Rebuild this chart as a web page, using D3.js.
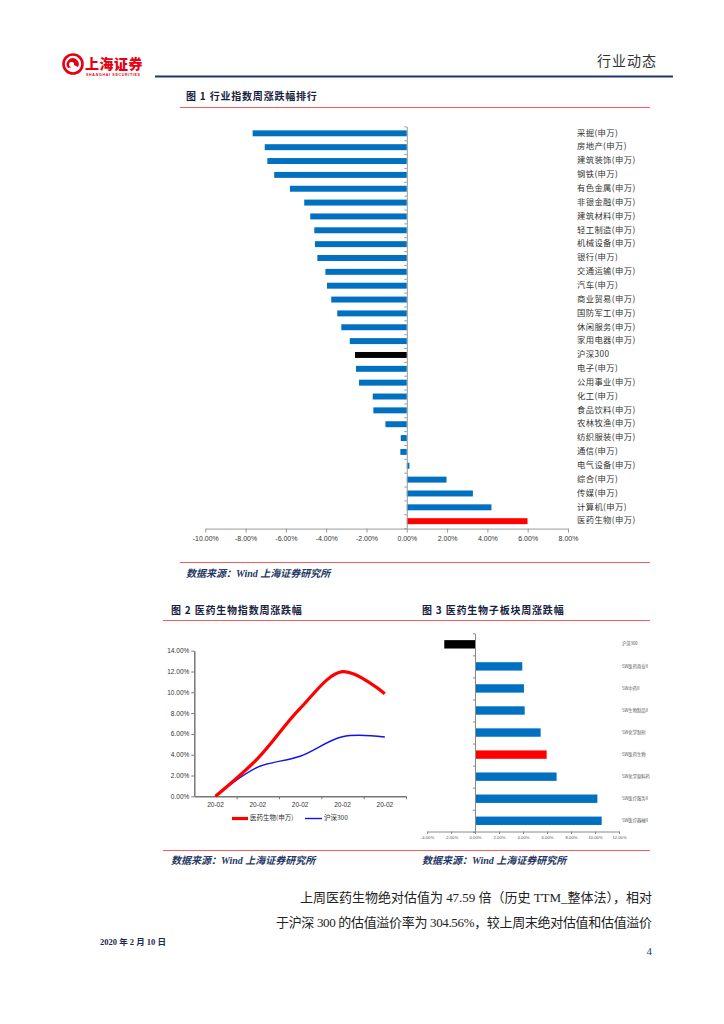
<!DOCTYPE html>
<html><head><meta charset="utf-8">
<script src="https://cdn.jsdelivr.net/npm/d3@7"></script>
<style>body{margin:0;background:#fff}svg{display:block}</style>
</head><body>
<svg id="c" width="724" height="1024"></svg>
<script>
// ---------- DATA ----------
const industries = ["采掘(申万)","房地产(申万)","建筑装饰(申万)","钢铁(申万)","有色金属(申万)","非银金融(申万)","建筑材料(申万)","轻工制造(申万)","机械设备(申万)","银行(申万)","交通运输(申万)","汽车(申万)","商业贸易(申万)","国防军工(申万)","休闲服务(申万)","家用电器(申万)","沪深300","电子(申万)","公用事业(申万)","化工(申万)","食品饮料(申万)","农林牧渔(申万)","纺织服装(申万)","通信(申万)","电气设备(申万)","综合(申万)","传媒(申万)","计算机(申万)","医药生物(申万)"];
const industryChanges = [-7.65,-7.05,-6.92,-6.58,-5.80,-5.09,-4.79,-4.59,-4.56,-4.44,-4.04,-3.96,-3.75,-3.45,-3.25,-2.83,-2.57,-2.52,-2.37,-1.69,-1.66,-1.06,-0.30,-0.32,0.13,1.97,3.28,4.20,5.99];
const fig1Ticks = [-10,-8,-6,-4,-2,0,2,4,6,8];

const fig2Dates = ["20-02","20-02","20-02","20-02","20-02"];
const fig2Pharma = [0, 3.65, 8.45, 11.98, 9.87];
const fig2HS300 = [0, 2.80, 3.85, 5.73, 5.70];
const fig2Ticks = [0,2,4,6,8,10,12,14];
const fig2SeriesNames = ["医药生物(申万)","沪深300"];

const sectors = ["沪深300","SW医药商业II","SW中药II","SW生物制品II","SW化学制剂","SW医药生物","SW化学原料药","SW医疗服务II","SW医疗器械II"];
const sectorChanges = [-2.56, 3.94, 4.08, 4.14, 5.47, 5.97, 6.80, 10.20, 10.56];
const fig3Ticks = [-4,-2,0,2,4,6,8,10,12];

// ---------- HELPERS ----------
const svg = d3.select("#c");
const pct = v => v.toFixed(2) + "%";
const BLUE = "#0070c0", NAVY = "#1f3864", RED = "#ff0000";
const cjk = "'Noto Sans CJK SC','Noto Sans',sans-serif";
const serif = "'Liberation Serif','DejaVu Serif','Noto Sans CJK SC',serif";
const sans = "'Liberation Sans',Arial,'Noto Sans CJK SC',sans-serif";
const colorOf = (name) => name === "沪深300" ? "#000" : (name.indexOf("医药生物") >= 0 ? RED : BLUE);

// ---------- HEADER ----------
const logo = svg.append("g").attr("transform","translate(73,64)");
logo.append("circle").attr("r",9.5).attr("fill","none").attr("stroke","#e60012").attr("stroke-width",2.6);
logo.append("path").attr("d","M-5,4 A6,6 0 1 1 5,3 L1,1 A2.5,2.5 0 1 0 -1,3 Z").attr("fill","#e60012");
svg.append("text").attr("x",85).attr("y",69).attr("font-family",cjk).attr("font-weight",900)
  .attr("font-size",14).attr("fill","#e60012").attr("letter-spacing",0.5).text("上海证券");
svg.append("text").attr("x",86).attr("y",76).attr("font-family",sans).attr("font-weight",700)
  .attr("font-size",3.6).attr("fill","#e60012").attr("textLength",54).text("SHANGHAI SECURITIES");
svg.append("text").attr("x",657).attr("y",66).attr("text-anchor","end").attr("font-family",cjk)
  .attr("font-size",14).attr("fill","#333").attr("letter-spacing",1).text("行业动态");
svg.append("line").attr("x1",155).attr("x2",673).attr("y1",76.5).attr("y2",76.5).attr("stroke",NAVY).attr("stroke-width",2.2);

function title(x, y, txt){
  svg.append("text").attr("x",x).attr("y",y).attr("font-family",cjk).attr("font-weight",700)
    .attr("font-size",10).attr("fill","#16213e").attr("letter-spacing",0.8).text(txt);
}
function redLine(x1,x2,y){
  svg.append("line").attr("x1",x1).attr("x2",x2).attr("y1",y).attr("y2",y).attr("stroke","#ff5a5a").attr("stroke-width",1);
}
function source(x,y){
  svg.append("text").attr("x",x).attr("y",y).attr("font-family",serif).attr("font-style","italic")
    .attr("font-weight",700).attr("font-size",10).attr("fill",NAVY).text("数据来源：Wind 上海证券研究所");
}

// ---------- FIGURE 1 ----------
title(186,100,"图 1 行业指数周涨跌幅排行");
redLine(180,650,107.5);

const x1 = d3.scaleLinear().domain([-10,8]).range([205.3,568]);
const y1 = d3.scaleBand().domain(industries).range([126.4,528.1]).paddingInner(0.57).paddingOuter(0.285);
const y1i = d3.scaleLinear().domain([0,industries.length]).range([126.4,528.1]);
const g1 = svg.append("g");
g1.selectAll("rect").data(industries).join("rect")
  .attr("x",(d,i)=>x1(Math.min(0,industryChanges[i])))
  .attr("width",(d,i)=>Math.abs(x1(industryChanges[i])-x1(0)))
  .attr("y",d=>y1(d)).attr("height",y1.bandwidth())
  .attr("fill",d=>colorOf(d));
const ax1 = g1.append("g").attr("transform","translate(0,528.6)")
  .call(d3.axisBottom(x1).tickValues(fig1Ticks).tickFormat(pct).tickSize(4).tickSizeOuter(0).tickPadding(3));
ax1.select(".domain").attr("stroke","#999");
ax1.selectAll("line").attr("stroke","#999");
ax1.selectAll("text").attr("font-family",sans).attr("font-size",7).attr("fill","#333");
const ay1 = g1.append("g").attr("transform",`translate(${x1(0)},0)`)
  .call(d3.axisLeft(y1i).tickValues(d3.range(industries.length+1)).tickFormat("").tickSize(2.5).tickSizeOuter(0));
ay1.select(".domain").attr("stroke","#999");
ay1.selectAll("line").attr("stroke","#999");
g1.selectAll("text.lab").data(industries).join("text").attr("class","lab")
  .attr("x",577).attr("y",d=>y1(d)+y1.bandwidth()/2).attr("dominant-baseline","middle")
  .attr("font-family",cjk).attr("font-size",8.3).attr("letter-spacing",0.4).attr("fill","#333").text(d=>d);

redLine(180,650,562.5);
source(186,577);

// ---------- FIGURE 2 ----------
title(171,614,"图 2 医药生物指数周涨跌幅");
redLine(163,415,620.5);
title(422,614,"图 3 医药生物子板块周涨跌幅");
redLine(415,650,620.5);

const x2 = d3.scaleBand().domain(d3.range(fig2Dates.length)).range([194.3,406]);
const x2c = i => x2(i) + x2.bandwidth()/2;
const y2 = d3.scaleLinear().domain([0,14]).range([796.3,650.7]);
const g2 = svg.append("g");
const ax2 = g2.append("g").attr("transform","translate(0,796.3)")
  .call(d3.axisBottom(x2).tickFormat(i=>fig2Dates[i]).tickSize(0).tickPadding(6));
ax2.select(".domain").attr("stroke","#777").attr("stroke-width",1.5);
ax2.selectAll("text").attr("font-family",sans).attr("font-size",6.5).attr("fill","#333");
const x2b = d3.scaleLinear().domain([0,fig2Dates.length]).range([194.3,406]);
const ax2b = g2.append("g").attr("transform","translate(0,796.3)")
  .call(d3.axisBottom(x2b).tickValues(d3.range(1,fig2Dates.length+1)).tickFormat("").tickSize(3).tickSizeOuter(0));
ax2b.select(".domain").remove();
ax2b.selectAll("line").attr("stroke","#777");
const ay2 = g2.append("g").attr("transform","translate(194.3,0)")
  .call(d3.axisLeft(y2).tickValues(fig2Ticks).tickFormat(pct).tickSize(3).tickSizeOuter(0).tickPadding(2));
ay2.select(".domain").attr("stroke","#777").attr("stroke-width",1.5);
ay2.selectAll("line").attr("stroke","#777");
ay2.selectAll("text").attr("font-family",sans).attr("font-size",6.5).attr("fill","#333");
const line2 = d3.line().x((d,i)=>x2c(i)).y(d=>y2(d)).curve(d3.curveCatmullRom.alpha(0.5));
g2.append("path").attr("d",line2(fig2HS300)).attr("fill","none").attr("stroke","#1010f0").attr("stroke-width",1.4);
g2.append("path").attr("d",line2(fig2Pharma)).attr("fill","none").attr("stroke",RED).attr("stroke-width",3.2);
// legend
const lg = g2.append("g").attr("font-family",cjk).attr("font-size",6.5).attr("fill","#333");
lg.append("line").attr("x1",232).attr("x2",248).attr("y1",818.5).attr("y2",818.5).attr("stroke",RED).attr("stroke-width",3.2);
lg.append("text").attr("x",250).attr("y",818.5).attr("dominant-baseline","middle").text(fig2SeriesNames[0]);
lg.append("line").attr("x1",305).attr("x2",322).attr("y1",818.5).attr("y2",818.5).attr("stroke","#1010f0").attr("stroke-width",1.4);
lg.append("text").attr("x",324).attr("y",818.5).attr("dominant-baseline","middle").text(fig2SeriesNames[1]);

// ---------- FIGURE 3 ----------
const x3 = d3.scaleLinear().domain([-4,12]).range([427,619]);
const y3 = d3.scaleBand().domain(sectors).range([633.3,831.8]).paddingInner(0.62).paddingOuter(0.31);
const y3i = d3.scaleLinear().domain([0,sectors.length]).range([633.3,831.8]);
const g3 = svg.append("g");
g3.selectAll("rect").data(sectors).join("rect")
  .attr("x",(d,i)=>x3(Math.min(0,sectorChanges[i])))
  .attr("width",(d,i)=>Math.abs(x3(sectorChanges[i])-x3(0)))
  .attr("y",d=>y3(d)).attr("height",y3.bandwidth())
  .attr("fill",d=>colorOf(d));
const ax3 = g3.append("g").attr("transform","translate(0,831.5)")
  .call(d3.axisBottom(x3).tickValues(fig3Ticks).tickFormat(pct).tickSize(2.5).tickSizeOuter(0).tickPadding(2));
ax3.select(".domain").attr("stroke","#888");
ax3.selectAll("line").attr("stroke","#888");
ax3.selectAll("text").attr("font-family",sans).attr("font-size",4.2).attr("fill","#555");
const ay3 = g3.append("g").attr("transform",`translate(${x3(0)},0)`)
  .call(d3.axisLeft(y3i).tickValues(d3.range(sectors.length+1)).tickFormat("").tickSize(2).tickSizeOuter(0));
ay3.select(".domain").attr("stroke","#888");
ay3.selectAll("line").attr("stroke","#888");
g3.selectAll("text.lab").data(sectors).join("text").attr("class","lab")
  .attr("x",622).attr("y",d=>y3(d)+y3.bandwidth()/2).attr("dominant-baseline","middle")
  .attr("font-family",cjk).attr("font-size",4.3).attr("fill","#555").text(d=>d);

redLine(163,650,850.5);
source(171,864);
source(422,864);

// ---------- BODY TEXT ----------
svg.append("text").attr("x",300).attr("y",902).attr("font-family",serif).attr("font-size",13)
  .attr("fill","#222").attr("textLength",352).attr("lengthAdjust","spacing")
  .text("上周医药生物绝对估值为 47.59 倍（历史 TTM_整体法），相对");
svg.append("text").attr("x",276).attr("y",927).attr("font-family",serif).attr("font-size",13)
  .attr("fill","#222").attr("textLength",376).attr("lengthAdjust","spacing")
  .text("于沪深 300 的估值溢价率为 304.56%，较上周末绝对估值和估值溢价");
svg.append("text").attr("x",100).attr("y",945).attr("font-family",serif).attr("font-weight",700)
  .attr("font-size",8.5).attr("fill","#1a2a4a").text("2020 年 2 月 10 日");
svg.append("text").attr("x",652).attr("y",955).attr("text-anchor","end").attr("font-family",serif)
  .attr("font-size",11).attr("fill",NAVY).text("4");
</script>
</body></html>
